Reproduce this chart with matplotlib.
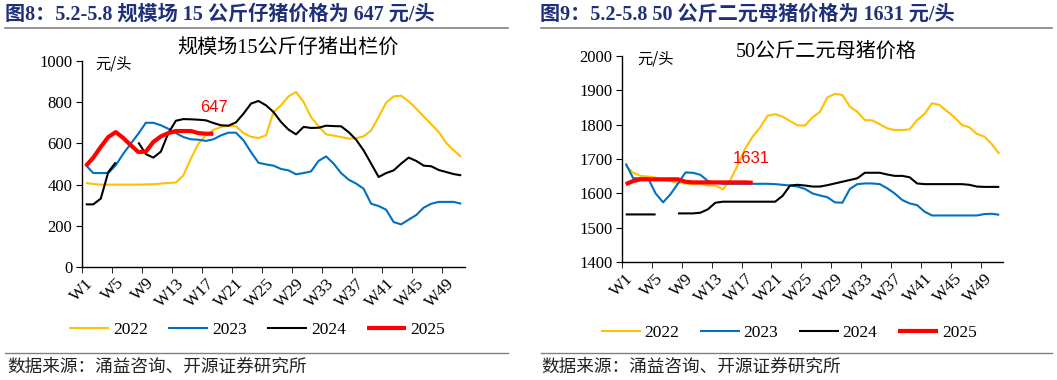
import numpy as np
import matplotlib
matplotlib.use("Agg")
import matplotlib.pyplot as plt
from matplotlib.lines import Line2D

nan = np.nan

weeks = [f"W{i}" for i in range(1, 52)]
years = ["2022", "2023", "2024", "2025"]
colors = ["#FFC000", "#0070C0", "#000000", "#FF0000"]

# 规模场15公斤仔猪出栏价 (元/头)
piglet_2022 = [408, 403, 400, 400, 400, 400, 400, 400, 401, 402, 405, 408, 410, 445, 526,
               599, 640, 665, 680, 685, 683, 650, 632, 626, 639, 752, 785, 828, 850, 801,
               728, 683, 644, 638, 631, 623, 625, 634, 663, 728, 798, 828, 832, 804, 769,
               731, 693, 655, 602, 566, 534]
piglet_2023 = [495, 456, 456, 456, 494, 550, 599, 647, 700, 700, 688, 671, 650, 631, 620,
               618, 612, 620, 639, 652, 652, 615, 558, 506, 498, 492, 476, 469, 450, 456,
               464, 515, 537, 502, 456, 424, 405, 380, 307, 296, 278, 218, 207, 230, 252,
               288, 307, 316, 316, 316, 307]
piglet_2024 = [304, 304, 332, 461, 508, nan, nan, 605, 548, 531, 560, 650, 710, 718, 717,
               715, 712, 699, 688, 686, 702, 744, 793, 806, 785, 752, 704, 667, 644, 680,
               675, 676, 686, 684, 683, 655, 618, 566, 502, 437, 456, 469, 502, 531, 515,
               492, 489, 471, 461, 451, 445]
piglet_2025 = [490, 531, 583, 631, 655, 626, 591, 558, 560, 607, 634, 650, 660, 660, 660,
               650, 647, 647]

# 50公斤二元母猪价格 (元/头)
sow_2022 = [1680, 1660, 1651, 1649, 1646, 1639, 1636, 1631, 1629, 1627, 1629, 1623, 1623,
            1612, 1639, 1683, 1731, 1765, 1792, 1826, 1830, 1823, 1810, 1798, 1797, 1821,
            1837, 1879, 1889, 1886, 1852, 1837, 1813, 1812, 1801, 1789, 1784, 1784, 1786,
            1813, 1831, 1862, 1857, 1839, 1821, 1799, 1792, 1773, 1765, 1743, 1715]
sow_2023 = [1687, 1644, 1644, 1644, 1600, 1574, 1598, 1629, 1661, 1660, 1654, 1636, 1631,
            1628, 1628, 1628, 1628, 1628, 1628, 1628, 1627, 1625, 1623, 1620, 1613, 1600,
            1594, 1589, 1574, 1573, 1613, 1627, 1629, 1629, 1627, 1615, 1600, 1581, 1571,
            1566, 1547, 1536, 1536, 1536, 1536, 1536, 1536, 1536, 1540, 1541, 1538]
sow_2024 = [1539, 1539, 1539, 1539, 1539, nan, nan, 1542, 1542, 1542, 1544, 1554, 1573,
            1576, 1576, 1576, 1576, 1576, 1576, 1576, 1576, 1593, 1623, 1625, 1623, 1620,
            1620, 1624, 1629, 1634, 1639, 1644, 1660, 1660, 1660, 1655, 1651, 1651, 1647,
            1629, 1627, 1627, 1627, 1627, 1627, 1627, 1625, 1620, 1619, 1619, 1619]
sow_2025 = [1627, 1636, 1641, 1641, 1641, 1641, 1641, 1641, 1634, 1632, 1632, 1632, 1632,
            1632, 1632, 1632, 1632, 1631]

serif = ["Liberation Serif", "Noto Sans CJK SC"]
cjk = ["Noto Sans CJK SC", "DejaVu Sans"]
title_color = "#1F2F7A"

fig = plt.figure(figsize=(10.57, 3.8), dpi=100)


def draw_panel(ax, series, ylim, yticks, inner_title, title_pos, unit_pos,
               note, note_xy, legend_pos):
    x = np.arange(len(weeks))
    handles = []
    for vals, c, yr in zip(series, colors, years):
        lw = 3 if yr == "2025" else 1.5
        h, = ax.plot(x[:len(vals)], vals, color=c, lw=lw, label=yr,
                     solid_joinstyle="round", solid_capstyle="butt")
        handles.append(h)

    ax.set_xlim(-0.5, len(weeks) - 0.5)
    ax.set_ylim(*ylim)
    ax.set_yticks(yticks)
    ax.set_yticklabels([str(v) for v in yticks], family=serif, fontsize=12)

    ax.set_xticks(x[::4])
    ax.set_xticklabels(weeks[::4], rotation=45, ha="right",
                       rotation_mode="anchor", family=serif, fontsize=12.5)
    ax.set_xticks(np.arange(-0.5, len(weeks), 4), minor=True)
    ax.tick_params(axis="x", which="major", length=0, pad=6)
    ax.tick_params(axis="x", which="minor", length=4, direction="out")
    ax.tick_params(axis="y", length=4, direction="out", pad=3)

    for s in ["top", "right"]:
        ax.spines[s].set_visible(False)
    for s in ["left", "bottom"]:
        ax.spines[s].set_color("black")
        ax.spines[s].set_linewidth(1)

    ax.text(title_pos[0], title_pos[1], inner_title, transform=ax.transAxes,
            ha="center", va="center", family=serif, fontsize=14.5)
    ax.text(unit_pos[0], unit_pos[1], "元/头", transform=ax.transAxes,
            ha="left", va="center", family=cjk, fontsize=11)
    ax.text(note_xy[0], note_xy[1], note, color="#FF0000", ha="center",
            va="center", family=["Liberation Sans"], fontsize=12)

    leg = ax.legend(handles=handles, loc="center", bbox_to_anchor=legend_pos,
                    ncol=4, frameon=False, handlelength=2.3, handletextpad=0.2,
                    columnspacing=1.2, prop={"family": serif, "size": 12.5})
    return leg


ax1 = fig.add_axes([82 / 1057, 1 - 267 / 380, 383 / 1057, 206 / 380])
draw_panel(ax1, [piglet_2022, piglet_2023, piglet_2024, piglet_2025],
           (0, 1000), [0, 200, 400, 600, 800, 1000],
           "规模场15公斤仔猪出栏价", (0.538, 1.063), (0.034, 0.985),
           "647", (17.1, 772), (0.457, -0.306))

ax2 = fig.add_axes([622 / 1057, 1 - 262.3 / 380, 381 / 1057, 206.6 / 380])
draw_panel(ax2, [sow_2022, sow_2023, sow_2024, sow_2025],
           (1400, 2000), [1400, 1500, 1600, 1700, 1800, 1900, 2000],
           "50公斤二元母猪价格", (0.535, 1.019), (0.039, 0.985),
           "1631", (16.8, 1702), (0.438, -0.344))

# header titles
fig.text(5 / 1057, 1 - 15 / 380, "图8：5.2-5.8 规模场 15 公斤仔猪价格为 647 元/头",
         family=serif, fontsize=14.5, fontweight="bold", color=title_color,
         ha="left", va="center")
fig.text(540 / 1057, 1 - 15 / 380, "图9：5.2-5.8 50 公斤二元母猪价格为 1631 元/头",
         family=serif, fontsize=14.5, fontweight="bold", color=title_color,
         ha="left", va="center")

# separator lines
for x0, x1 in [(5, 508), (541, 1052)]:
    fig.add_artist(Line2D([x0 / 1057, x1 / 1057], [1 - 28 / 380] * 2,
                          color="#808080", lw=1.2))
    fig.add_artist(Line2D([x0 / 1057, x1 / 1057], [1 - 353 / 380] * 2,
                          color="#808080", lw=1.0))

# source notes
for x0 in [7, 541]:
    fig.text(x0 / 1057, 1 - 367 / 380, "数据来源：涌益咨询、开源证券研究所",
             family=cjk, fontsize=12.7, color="#222222", ha="left", va="center")

fig.savefig("out.png", dpi=100)
